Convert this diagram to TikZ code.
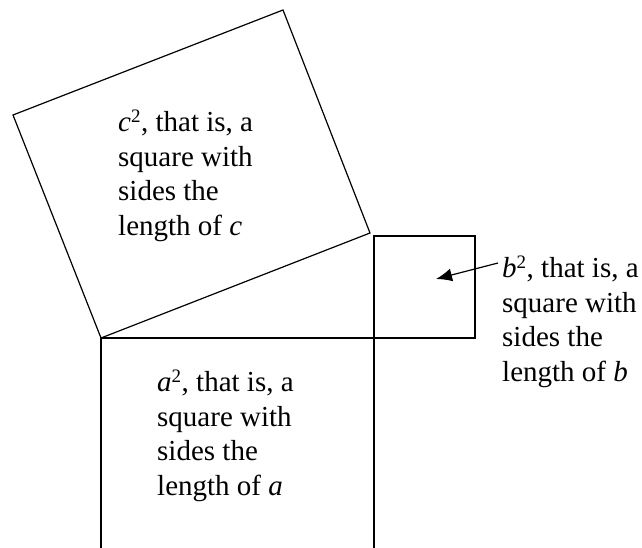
\documentclass[tikz,border=0pt]{standalone}
\usepackage{fontspec}
\setmainfont{Liberation Serif}
\usetikzlibrary{arrows.meta}

\newcommand{\sq}{\textsuperscript{\fontsize{19}{19}\selectfont 2}}

\begin{document}
\begin{tikzpicture}[x=1pt, y=-1pt,
  side/.style={draw, line width=1.2pt},
  note/.style={anchor=north west, inner sep=0pt, align=left, font=\fontsize{29}{34.5}\selectfont},
  ptr/.style={-{Latex[length=16pt, width=13pt]}, line width=1.2pt}
]
  \clip (0,0) rectangle (642,548);

  \coordinate (cbl) at (101,338);
  \coordinate (ctl) at (13,115);
  \coordinate (ctr) at (283,10);
  \coordinate (cbr) at (370,233);
  \draw[side] (cbl) -- (ctl) -- (ctr) -- (cbr) -- cycle;

  \draw[side] (101,338) rectangle (374,611);
  \draw[side] (374,236) rectangle (475,338);

  \node[note] (ctext) at (118,110) {\textit{c}\sq, that is, a\\square with\\sides the\\length of \textit{c}};
  \node[note] (atext) at (157,370) {\textit{a}\sq, that is, a\\square with\\sides the\\length of \textit{a}};
  \node[note] (btext) at (502,256) {\textit{b}\sq, that is, a\\square with\\sides the\\length of \textit{b}};

  \coordinate (btip) at (436,279);
  \draw[ptr] ([shift={(-4,7)}]btext.north west) -- (btip);
\end{tikzpicture}
\end{document}
